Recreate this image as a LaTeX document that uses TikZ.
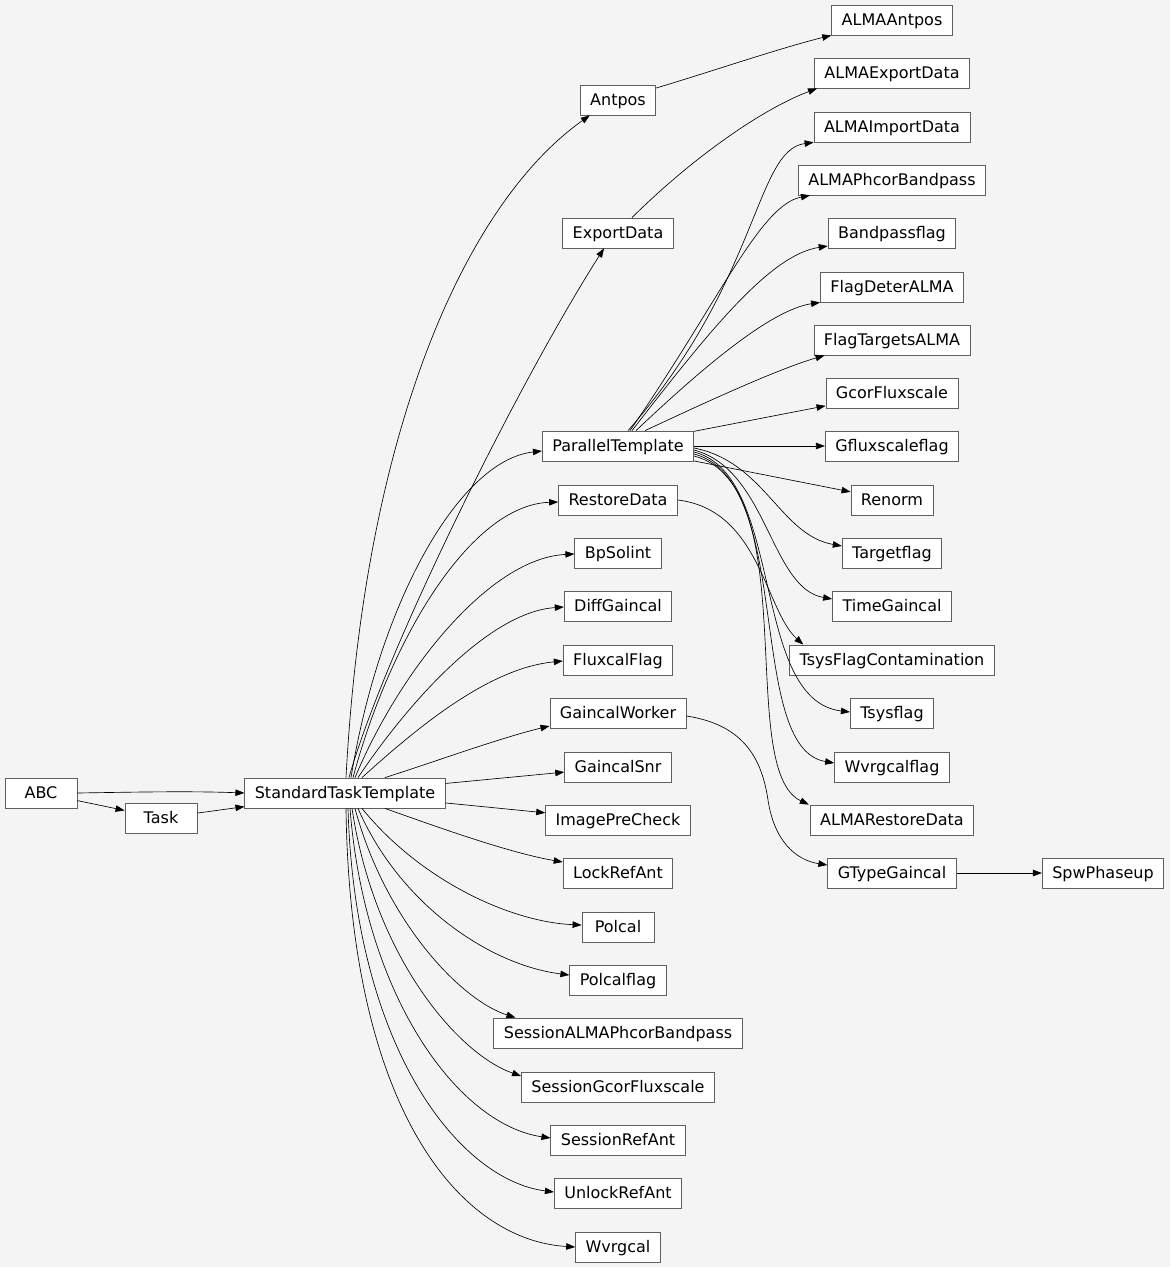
\documentclass[tikz,border=0pt]{standalone}
\usepackage{fontspec}
\setmainfont{DejaVu Sans}
\usetikzlibrary{arrows.meta,calc}
\definecolor{bgc}{RGB}{244,244,244}
\definecolor{boxc}{RGB}{95,95,95}
\begin{document}
\begin{tikzpicture}[x=1pt,y=-1pt,
  cls/.style={draw=boxc,fill=white,line width=0.8pt,minimum height=30pt,minimum width=72pt,
    inner xsep=10pt,inner ysep=0pt,text height=11.6pt,text depth=0pt,
    font=\fontsize{16}{19}\selectfont},
  edge/.style={draw=black,line width=0.65pt,-{Triangle[length=9pt,width=6.5pt]}}]
\fill[bgc] (0,0) rectangle (1170,1267);
\useasboundingbox (0,0) rectangle (1170,1267);
% left
\node[cls] (abc) at (41,793) {ABC};
\node[cls] (task) at (161,818) {Task};
\node[cls] (stt) at (345,793) {StandardTaskTemplate};
% middle column
\node[cls] (antpos) at (618,100) {Antpos};
\node[cls] (exportdata) at (618,233) {ExportData};
\node[cls] (pt) at (618,446) {ParallelTemplate};
\node[cls] (restoredata) at (618,500) {RestoreData};
\node[cls] (bpsolint) at (618,553) {BpSolint};
\node[cls] (diffgaincal) at (618,606) {DiffGaincal};
\node[cls] (fluxcalflag) at (618,660) {FluxcalFlag};
\node[cls] (gaincalworker) at (618,713) {GaincalWorker};
\node[cls] (gaincalsnr) at (618,767) {GaincalSnr};
\node[cls] (imageprecheck) at (618,820) {ImagePreCheck};
\node[cls] (lockrefant) at (618,873) {LockRefAnt};
\node[cls] (polcal) at (618,927) {Polcal};
\node[cls] (polcalflag) at (618,980) {Polcalflag};
\node[cls] (sessalma) at (618,1033) {SessionALMAPhcorBandpass};
\node[cls] (sessgcor) at (618,1087) {SessionGcorFluxscale};
\node[cls] (sessrefant) at (618,1140) {SessionRefAnt};
\node[cls] (unlockrefant) at (618,1193) {UnlockRefAnt};
\node[cls] (wvrgcal) at (618,1247) {Wvrgcal};
% right column
\node[cls] (almaantpos) at (892,20) {ALMAAntpos};
\node[cls] (almaexportdata) at (892,73) {ALMAExportData};
\node[cls] (almaimportdata) at (892,127) {ALMAImportData};
\node[cls] (almaphcor) at (892,180) {ALMAPhcorBandpass};
\node[cls] (bandpassflag) at (892,233) {Bandpassflag};
\node[cls] (flagdeter) at (892,287) {FlagDeterALMA};
\node[cls] (flagtargets) at (892,340) {FlagTargetsALMA};
\node[cls] (gcorflux) at (892,393) {GcorFluxscale};
\node[cls] (gfluxflag) at (892,446) {Gfluxscaleflag};
\node[cls] (renorm) at (892,500) {Renorm};
\node[cls] (targetflag) at (892,553) {Targetflag};
\node[cls] (timegaincal) at (892,606) {TimeGaincal};
\node[cls] (tsysfc) at (892,660) {TsysFlagContamination};
\node[cls] (tsysflag) at (892,713) {Tsysflag};
\node[cls] (wvrgcalflag) at (892,767) {Wvrgcalflag};
\node[cls] (almarestore) at (892,820) {ALMARestoreData};
\node[cls] (gtype) at (892,873) {GTypeGaincal};
\node[cls] (spwphaseup) at (1103,873) {SpwPhaseup};
% left edges
\draw[edge] (abc.east) .. controls (140,792) and (190,791) .. (stt.west);
\draw[edge] (abc) -- (task);
\draw[edge] (task) -- (stt);
% STT upward
\draw[edge] ([xshift=1]stt.north) .. controls (365,420) and (470,200) .. ([xshift=10]antpos.south west);
\draw[edge] ([xshift=4]stt.north) .. controls (385,650) and (520,380) .. ([xshift=-14]exportdata.south);
\draw[edge] ([xshift=6]stt.north) .. controls (380,600) and (460,460) .. ([yshift=-5]pt.west);
\draw[edge] ([xshift=8]stt.north) .. controls (390,640) and (470,505) .. ([yshift=-2]restoredata.west);
\draw[edge] ([xshift=10]stt.north) .. controls (400,670) and (490,558) .. ([yshift=-1]bpsolint.west);
\draw[edge] ([xshift=13]stt.north) .. controls (410,700) and (490,612) .. ([yshift=-1]diffgaincal.west);
\draw[edge] ([xshift=17]stt.north) .. controls (420,725) and (490,668) .. ([yshift=-1]fluxcalflag.west);
\draw[edge] ([xshift=40]stt.north) .. controls (440,760) and (500,738) .. ([yshift=-13]gaincalworker.west);
\draw[edge] (stt) -- (gaincalsnr);
\draw[edge] (stt) -- (imageprecheck);
\draw[edge] ([xshift=40]stt.south) .. controls (440,828) and (510,853) .. ([yshift=11]lockrefant.west);
% STT downward
\draw[edge] ([xshift=17]stt.south) .. controls (420,880) and (510,922) .. ([yshift=2]polcal.west);
\draw[edge] ([xshift=13]stt.south) .. controls (400,905) and (490,965) .. ([yshift=5]polcalflag.west);
\draw[edge] ([xshift=10]stt.south) .. controls (385,920) and (460,1000) .. ([xshift=22]sessalma.north west);
\draw[edge] ([xshift=7]stt.south) .. controls (375,960) and (460,1055) .. ([yshift=11]sessgcor.west);
\draw[edge] ([xshift=5]stt.south) .. controls (365,1000) and (460,1125) .. ([yshift=2]sessrefant.west);
\draw[edge] ([xshift=3]stt.south) .. controls (355,1050) and (460,1180) .. ([yshift=1]unlockrefant.west);
\draw[edge] ([xshift=1]stt.south) .. controls (350,1110) and (460,1240) .. (wvrgcal.west);
% middle to right
\draw[edge] ([yshift=12]antpos.east) .. controls (710,72) and (780,48) .. (almaantpos.south west);
\draw[edge] ([xshift=14]exportdata.north) .. controls (690,160) and (760,110) .. ([xshift=3]almaexportdata.south west);
\draw[edge] ([xshift=10]pt.north) .. controls (760,280) and (755,150) .. (almaimportdata.south west);
\draw[edge] ([xshift=12]pt.north) .. controls (720,300) and (760,205) .. ([xshift=12]almaphcor.south west);
\draw[edge] ([xshift=14]pt.north) .. controls (710,330) and (770,255) .. ([yshift=-13]bandpassflag.west);
\draw[edge] ([xshift=18]pt.north) .. controls (700,370) and (770,310) .. (flagdeter.south west);
\draw[edge] ([xshift=27]pt.north) .. controls (700,405) and (775,370) .. ([xshift=11]flagtargets.south west);
\draw[edge] (pt) -- (gcorflux);
\draw[edge] (pt) -- (gfluxflag);
\draw[edge] (pt) -- (renorm);
\draw[edge] ([yshift=-2]pt.east) .. controls (765,462) and (780,535) .. ([yshift=7]targetflag.west);
\draw[edge] ([yshift=-4]pt.east) .. controls (768,470) and (770,588) .. ([yshift=7]timegaincal.west);
\draw[edge] ([yshift=-6]pt.east) .. controls (785,475) and (750,700) .. ([yshift=1]tsysflag.west);
\draw[edge] ([yshift=-8]pt.east) .. controls (795,480) and (745,748) .. ([yshift=4]wvrgcalflag.west);
\draw[edge] ([yshift=-10]pt.east) .. controls (805,485) and (735,770) .. ([xshift=-1]almarestore.north west);
\draw[edge] (restoredata.east) .. controls (760,510) and (765,610) .. ([xshift=14]tsysfc.north west);
\draw[edge] ([yshift=-3]gaincalworker.east) .. controls (745,725) and (762,760) .. (768,800) .. controls (774,840) and (795,860) .. ([yshift=8]gtype.west);
\draw[edge] (gtype) -- (spwphaseup);
\end{tikzpicture}
\end{document}
